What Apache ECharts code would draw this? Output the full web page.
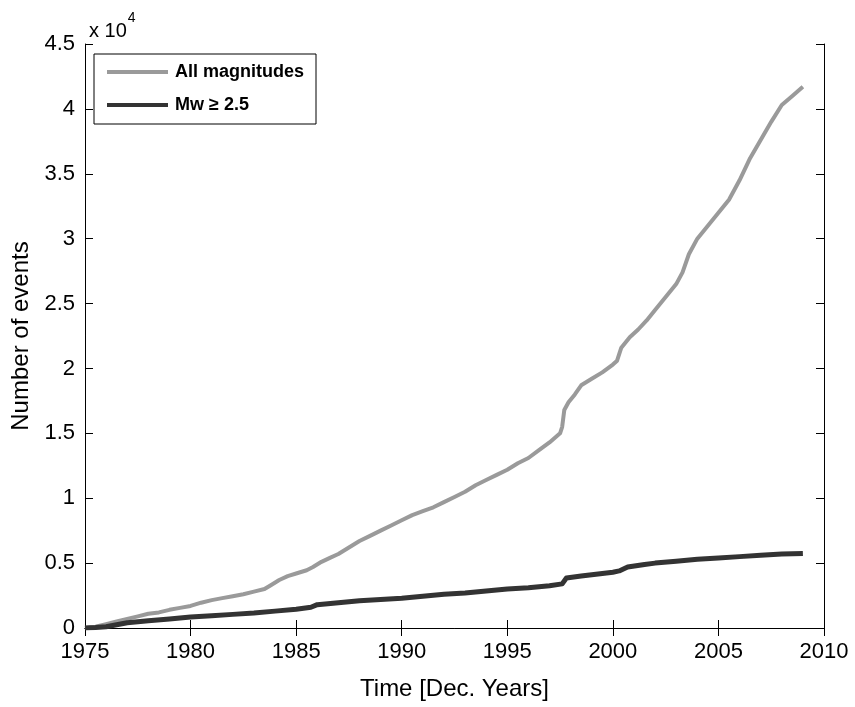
<!DOCTYPE html>
<html>
<head>
<meta charset="utf-8">
<script src="https://cdn.jsdelivr.net/npm/echarts@6/dist/echarts.min.js"></script>
<style>
  html, body { margin: 0; padding: 0; background: #fff; }
  #chart { width: 855px; height: 707px; }
</style>
</head>
<body>
<div id="chart"></div>
<script>
// Cumulative number of catalogued events, in units of 10^4
const allYears = [1975.0, 1975.5, 1976.0, 1976.5, 1977.0, 1977.5, 1978.0, 1978.5, 1979.0, 1979.5,
  1980.0, 1980.5, 1981.0, 1981.5, 1982.0, 1982.5, 1983.0, 1983.5, 1983.8, 1984.2, 1984.6,
  1985.0, 1985.5, 1985.8, 1986.2, 1986.6, 1987.0, 1987.5, 1988.0, 1988.5, 1989.0, 1989.5,
  1990.0, 1990.5, 1991.0, 1991.5, 1992.0, 1992.5, 1993.0, 1993.5, 1994.0, 1994.5, 1995.0,
  1995.5, 1996.0, 1996.5, 1997.0, 1997.5, 1997.6, 1997.7, 1997.9, 1998.2, 1998.5, 1999.0,
  1999.5, 2000.0, 2000.2, 2000.4, 2000.8, 2001.2, 2001.6, 2002.0, 2002.5, 2003.0, 2003.3,
  2003.6, 2004.0, 2004.5, 2005.0, 2005.5, 2006.0, 2006.5, 2007.0, 2007.5, 2008.0, 2008.5, 2009.0];
const allCounts = [0, 0.01, 0.03, 0.05, 0.07, 0.09, 0.11, 0.12, 0.14, 0.155,
  0.17, 0.195, 0.215, 0.23, 0.245, 0.26, 0.28, 0.30, 0.33, 0.37, 0.40,
  0.42, 0.445, 0.47, 0.51, 0.54, 0.57, 0.62, 0.67, 0.71, 0.75, 0.79,
  0.83, 0.87, 0.90, 0.93, 0.97, 1.01, 1.05, 1.10, 1.14, 1.18, 1.22,
  1.27, 1.31, 1.37, 1.43, 1.50, 1.55, 1.68, 1.74, 1.80, 1.87, 1.92,
  1.97, 2.03, 2.06, 2.16, 2.24, 2.30, 2.37, 2.45, 2.55, 2.65, 2.74,
  2.88, 3.00, 3.10, 3.20, 3.30, 3.45, 3.62, 3.76, 3.90, 4.03, 4.10, 4.17];

const bigYears = [1975.0, 1975.5, 1976.0, 1976.5, 1977.0, 1978.0, 1979.0, 1980.0, 1981.0, 1982.0,
  1983.0, 1984.0, 1985.0, 1985.7, 1986.0, 1987.0, 1988.0, 1989.0, 1990.0, 1991.0, 1992.0,
  1993.0, 1994.0, 1995.0, 1996.0, 1997.0, 1997.6, 1997.8, 1998.5, 1999.0, 2000.0, 2000.3,
  2000.7, 2001.5, 2002.0, 2003.0, 2004.0, 2005.0, 2006.0, 2007.0, 2008.0, 2009.0];
const bigCounts = [0, 0.003, 0.01, 0.025, 0.04, 0.055, 0.07, 0.085, 0.095, 0.105,
  0.115, 0.13, 0.145, 0.16, 0.18, 0.195, 0.21, 0.22, 0.23, 0.245, 0.26,
  0.27, 0.285, 0.30, 0.31, 0.325, 0.34, 0.385, 0.40, 0.41, 0.43, 0.44,
  0.47, 0.49, 0.50, 0.515, 0.53, 0.54, 0.55, 0.56, 0.57, 0.575];

const seriesNames = ['All magnitudes', 'Mw \u2265 2.5'];
const xTicks = [1975, 1980, 1985, 1990, 1995, 2000, 2005, 2010];
const yTicks = [0, 0.5, 1, 1.5, 2, 2.5, 3, 3.5, 4, 4.5];

const FONT = '"Liberation Sans", Arial, Helvetica, sans-serif';
const pair = (xs, ys) => xs.map((x, i) => [x, ys[i] * 10000]);

const chart = echarts.init(document.getElementById('chart'), null, { renderer: 'canvas' });

const xCommon = {
  type: 'value',
  min: xTicks[0], max: xTicks[xTicks.length - 1], interval: 5,
  splitLine: { show: false },
  axisLine: { show: true, lineStyle: { color: '#000', width: 1 } },
  axisTick: { show: true, inside: true, length: 8, lineStyle: { color: '#000' } }
};
const yCommon = {
  type: 'value',
  min: yTicks[0] * 10000, max: yTicks[yTicks.length - 1] * 10000, interval: 5000,
  splitLine: { show: false },
  axisLine: { show: true, lineStyle: { color: '#000', width: 1 } },
  axisTick: { show: true, inside: true, length: 8, lineStyle: { color: '#000' } }
};

chart.setOption({
  backgroundColor: '#fff',
  animation: false,
  textStyle: { fontFamily: FONT },
  title: {
    left: 84, top: 6,
    text: '{a|x 10}{b|4}',
    textStyle: {
      fontWeight: 'normal',
      rich: {
        a: { fontFamily: FONT, fontSize: 20, fontWeight: 'normal', color: '#000', verticalAlign: 'bottom', lineHeight: 30 },
        b: { fontFamily: FONT, fontSize: 14, fontWeight: 'normal', color: '#000', verticalAlign: 'top', lineHeight: 30, padding: [0, 0, 0, 1] }
      }
    }
  },
  grid: { left: 85, right: 31, top: 44, bottom: 79, containLabel: false },
  legend: {
    left: 94, top: 54,
    orient: 'vertical',
    icon: 'rect',
    itemWidth: 61, itemHeight: 4,
    itemGap: 13,
    padding: [8, 12, 9, 13],
    borderColor: '#000', borderWidth: 1,
    backgroundColor: '#fff',
    textStyle: { fontFamily: FONT, fontSize: 18, fontWeight: 'bold', color: '#000', lineHeight: 20, padding: [0, 0, 0, 2] },
    data: seriesNames
  },
  xAxis: [
    Object.assign({}, xCommon, {
      position: 'bottom',
      name: 'Time [Dec. Years]', nameLocation: 'middle', nameGap: 49,
      nameTextStyle: { fontFamily: FONT, fontSize: 24, color: '#000' },
      axisLabel: { show: true, margin: 13, fontFamily: FONT, fontSize: 22, color: '#000', formatter: v => String(v) }
    }),
    Object.assign({}, xCommon, { position: 'top', axisLabel: { show: false } })
  ],
  yAxis: [
    Object.assign({}, yCommon, {
      position: 'left',
      name: 'Number of events', nameLocation: 'middle', nameGap: 50,
      nameTextStyle: { fontFamily: FONT, fontSize: 24, color: '#000' },
      axisLabel: {
        show: true, margin: 10, fontFamily: FONT, fontSize: 22, color: '#000',
        padding: [9, 0, 0, 0],
        formatter: v => String(v / 10000)
      }
    }),
    Object.assign({}, yCommon, { position: 'right', axisLabel: { show: false } })
  ],
  series: [
    {
      name: seriesNames[0], type: 'line',
      xAxisIndex: 0, yAxisIndex: 0,
      data: pair(allYears, allCounts),
      showSymbol: false, symbol: 'none',
      color: '#9a9a9a',
      lineStyle: { color: '#9a9a9a', width: 4, cap: 'butt', join: 'round' }
    },
    {
      name: seriesNames[1], type: 'line',
      xAxisIndex: 0, yAxisIndex: 0,
      data: pair(bigYears, bigCounts),
      showSymbol: false, symbol: 'none',
      color: '#333333',
      lineStyle: { color: '#333333', width: 5, cap: 'butt', join: 'round' }
    }
  ]
});
</script>
</body>
</html>
